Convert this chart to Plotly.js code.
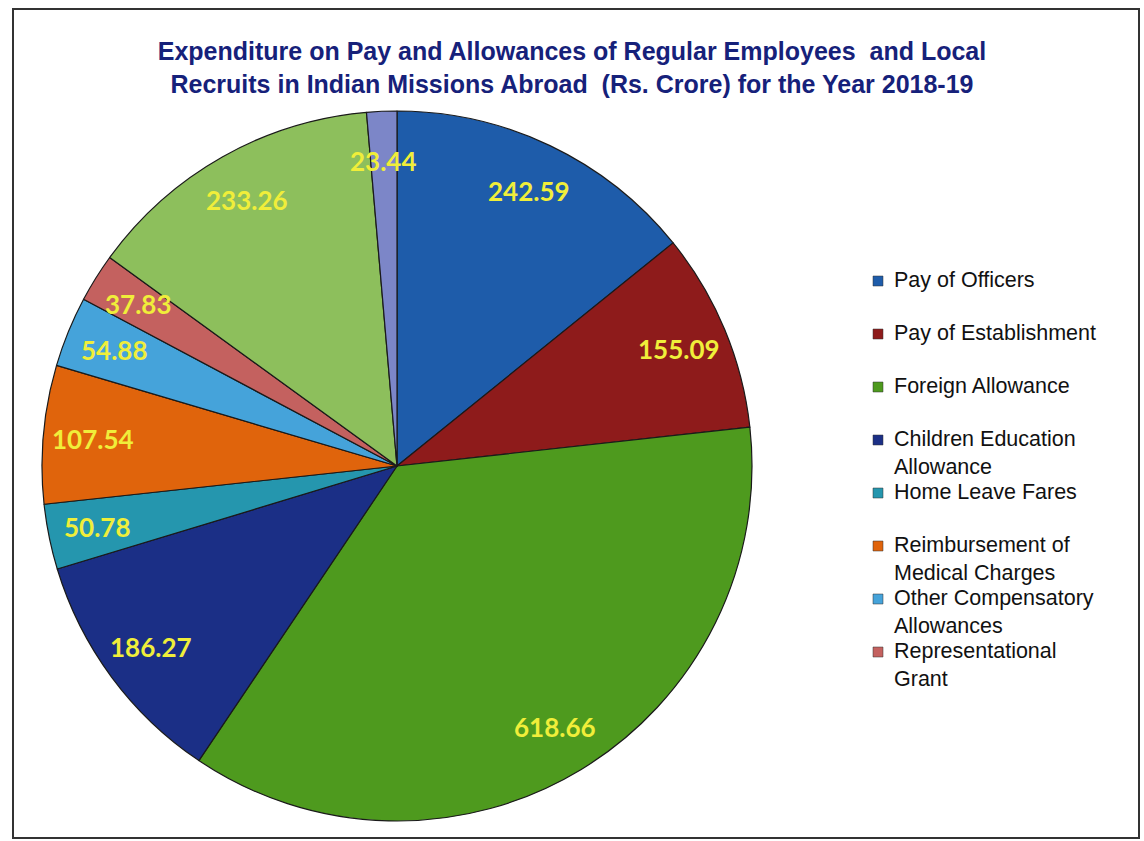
<!DOCTYPE html>
<html>
<head>
<meta charset="utf-8">
<script src="https://cdn.plot.ly/plotly-3.0.1.min.js"></script>
<style>html,body{margin:0;padding:0;background:#fff;}#chart{width:1144px;height:841px;}</style>
</head>
<body>
<div id="chart"></div>
<script>
// Data
const categories = [
  "Pay of Officers",
  "Pay of Establishment",
  "Foreign Allowance",
  "Children Education Allowance",
  "Home Leave Fares",
  "Reimbursement of Medical Charges",
  "Other Compensatory Allowances",
  "Representational Grant",
  "Other Item A",
  "Other Item B"
];
const values = [242.59, 155.09, 618.66, 186.27, 50.78, 107.54, 54.88, 37.83, 233.26, 23.44];
const sliceColors = ["#1E5CAA", "#8E1B1B", "#4E9A1E", "#1B2F86", "#2596AE", "#E0640C", "#45A3DA", "#C4615F", "#8DBF5C", "#7C86C8"];
const legendLabels = [
  "Pay of Officers",
  "Pay of Establishment",
  "Foreign Allowance",
  "Children Education<br>Allowance",
  "Home Leave Fares",
  "Reimbursement of<br>Medical Charges",
  "Other Compensatory<br>Allowances",
  "Representational<br>Grant"
];
const titleText = "Expenditure on Pay and Allowances of Regular Employees  and Local<br>Recruits in Indian Missions Abroad  (Rs. Crore) for the Year 2018-19";

const W = 1144, H = 841;
// pie placement
const pieX0 = 42, pieX1 = 752, pieY0 = 110, pieY1 = 822;
const cx = (pieX0 + pieX1) / 2, cy = (pieY0 + pieY1) / 2;
const R = Math.min(pieX1 - pieX0, pieY1 - pieY0) / 2;
const labelRadiusFrac = 0.86;

const pie = {
  type: "pie",
  labels: categories,
  values: values,
  sort: false,
  direction: "clockwise",
  rotation: 0,
  marker: {colors: sliceColors, line: {color: "#1a1a1a", width: 1.2}},
  textinfo: "none",
  showlegend: false,
  hoverinfo: "label+value",
  domain: {x: [pieX0 / W, pieX1 / W], y: [1 - pieY1 / H, 1 - pieY0 / H]}
};

const annotations = [];
const shapes = [];

// data labels, placed from cumulative angles of the values
const total = values.reduce((a, b) => a + b, 0);
let cum = 0;
values.forEach((v) => {
  const mid = (cum + v / 2) / total * 2 * Math.PI;
  cum += v;
  const px = cx + labelRadiusFrac * R * Math.sin(mid);
  const py = cy - labelRadiusFrac * R * Math.cos(mid);
  annotations.push({
    xref: "paper", yref: "paper",
    x: px / W, y: 1 - py / H,
    xanchor: "center", yanchor: "middle",
    text: v.toFixed(2), showarrow: false,
    font: {family: "Lato, 'DejaVu Sans', sans-serif", size: 26, color: "#F0EE3A", weight: "bold"}
  });
});

// legend
const legTop = 280, legStep = 53, legTextX = 892, legBoxX = 873;
legendLabels.forEach((lab, i) => {
  const yc = legTop + i * legStep;
  annotations.push({
    xref: "paper", yref: "paper",
    x: legTextX / W, y: 1 - (yc - 14) / H,
    xanchor: "left", yanchor: "top", align: "left",
    text: lab, showarrow: false,
    font: {family: "'Liberation Sans', Arial, sans-serif", size: 21.5, color: "#111"}
  });
  shapes.push({
    type: "rect", xref: "paper", yref: "paper",
    x0: legBoxX / W, x1: (legBoxX + 10) / W,
    y0: 1 - (yc - 4) / H, y1: 1 - (yc + 6) / H,
    fillcolor: sliceColors[i], line: {color: "#333", width: 0.5}
  });
});
shapes.push({
  type: "rect", xref: "paper", yref: "paper",
  x0: 13 / W, x1: 1139 / W, y0: 1 - 838 / H, y1: 1 - 9 / H,
  line: {color: "#333", width: 2}, fillcolor: "rgba(0,0,0,0)"
});

const layout = {
  width: W, height: H,
  margin: {l: 0, r: 0, t: 0, b: 0},
  paper_bgcolor: "#fff",
  title: {
    text: titleText,
    x: 572 / W, xanchor: "center",
    y: 1 - 60 / H, yanchor: "middle",
    yref: "container",
    font: {family: "'Liberation Sans', Arial, sans-serif", size: 25, color: "#16217A", weight: "bold"}
  },
  annotations: annotations,
  shapes: shapes
};

Plotly.newPlot("chart", [pie], layout, {displayModeBar: false});
</script>
</body>
</html>
